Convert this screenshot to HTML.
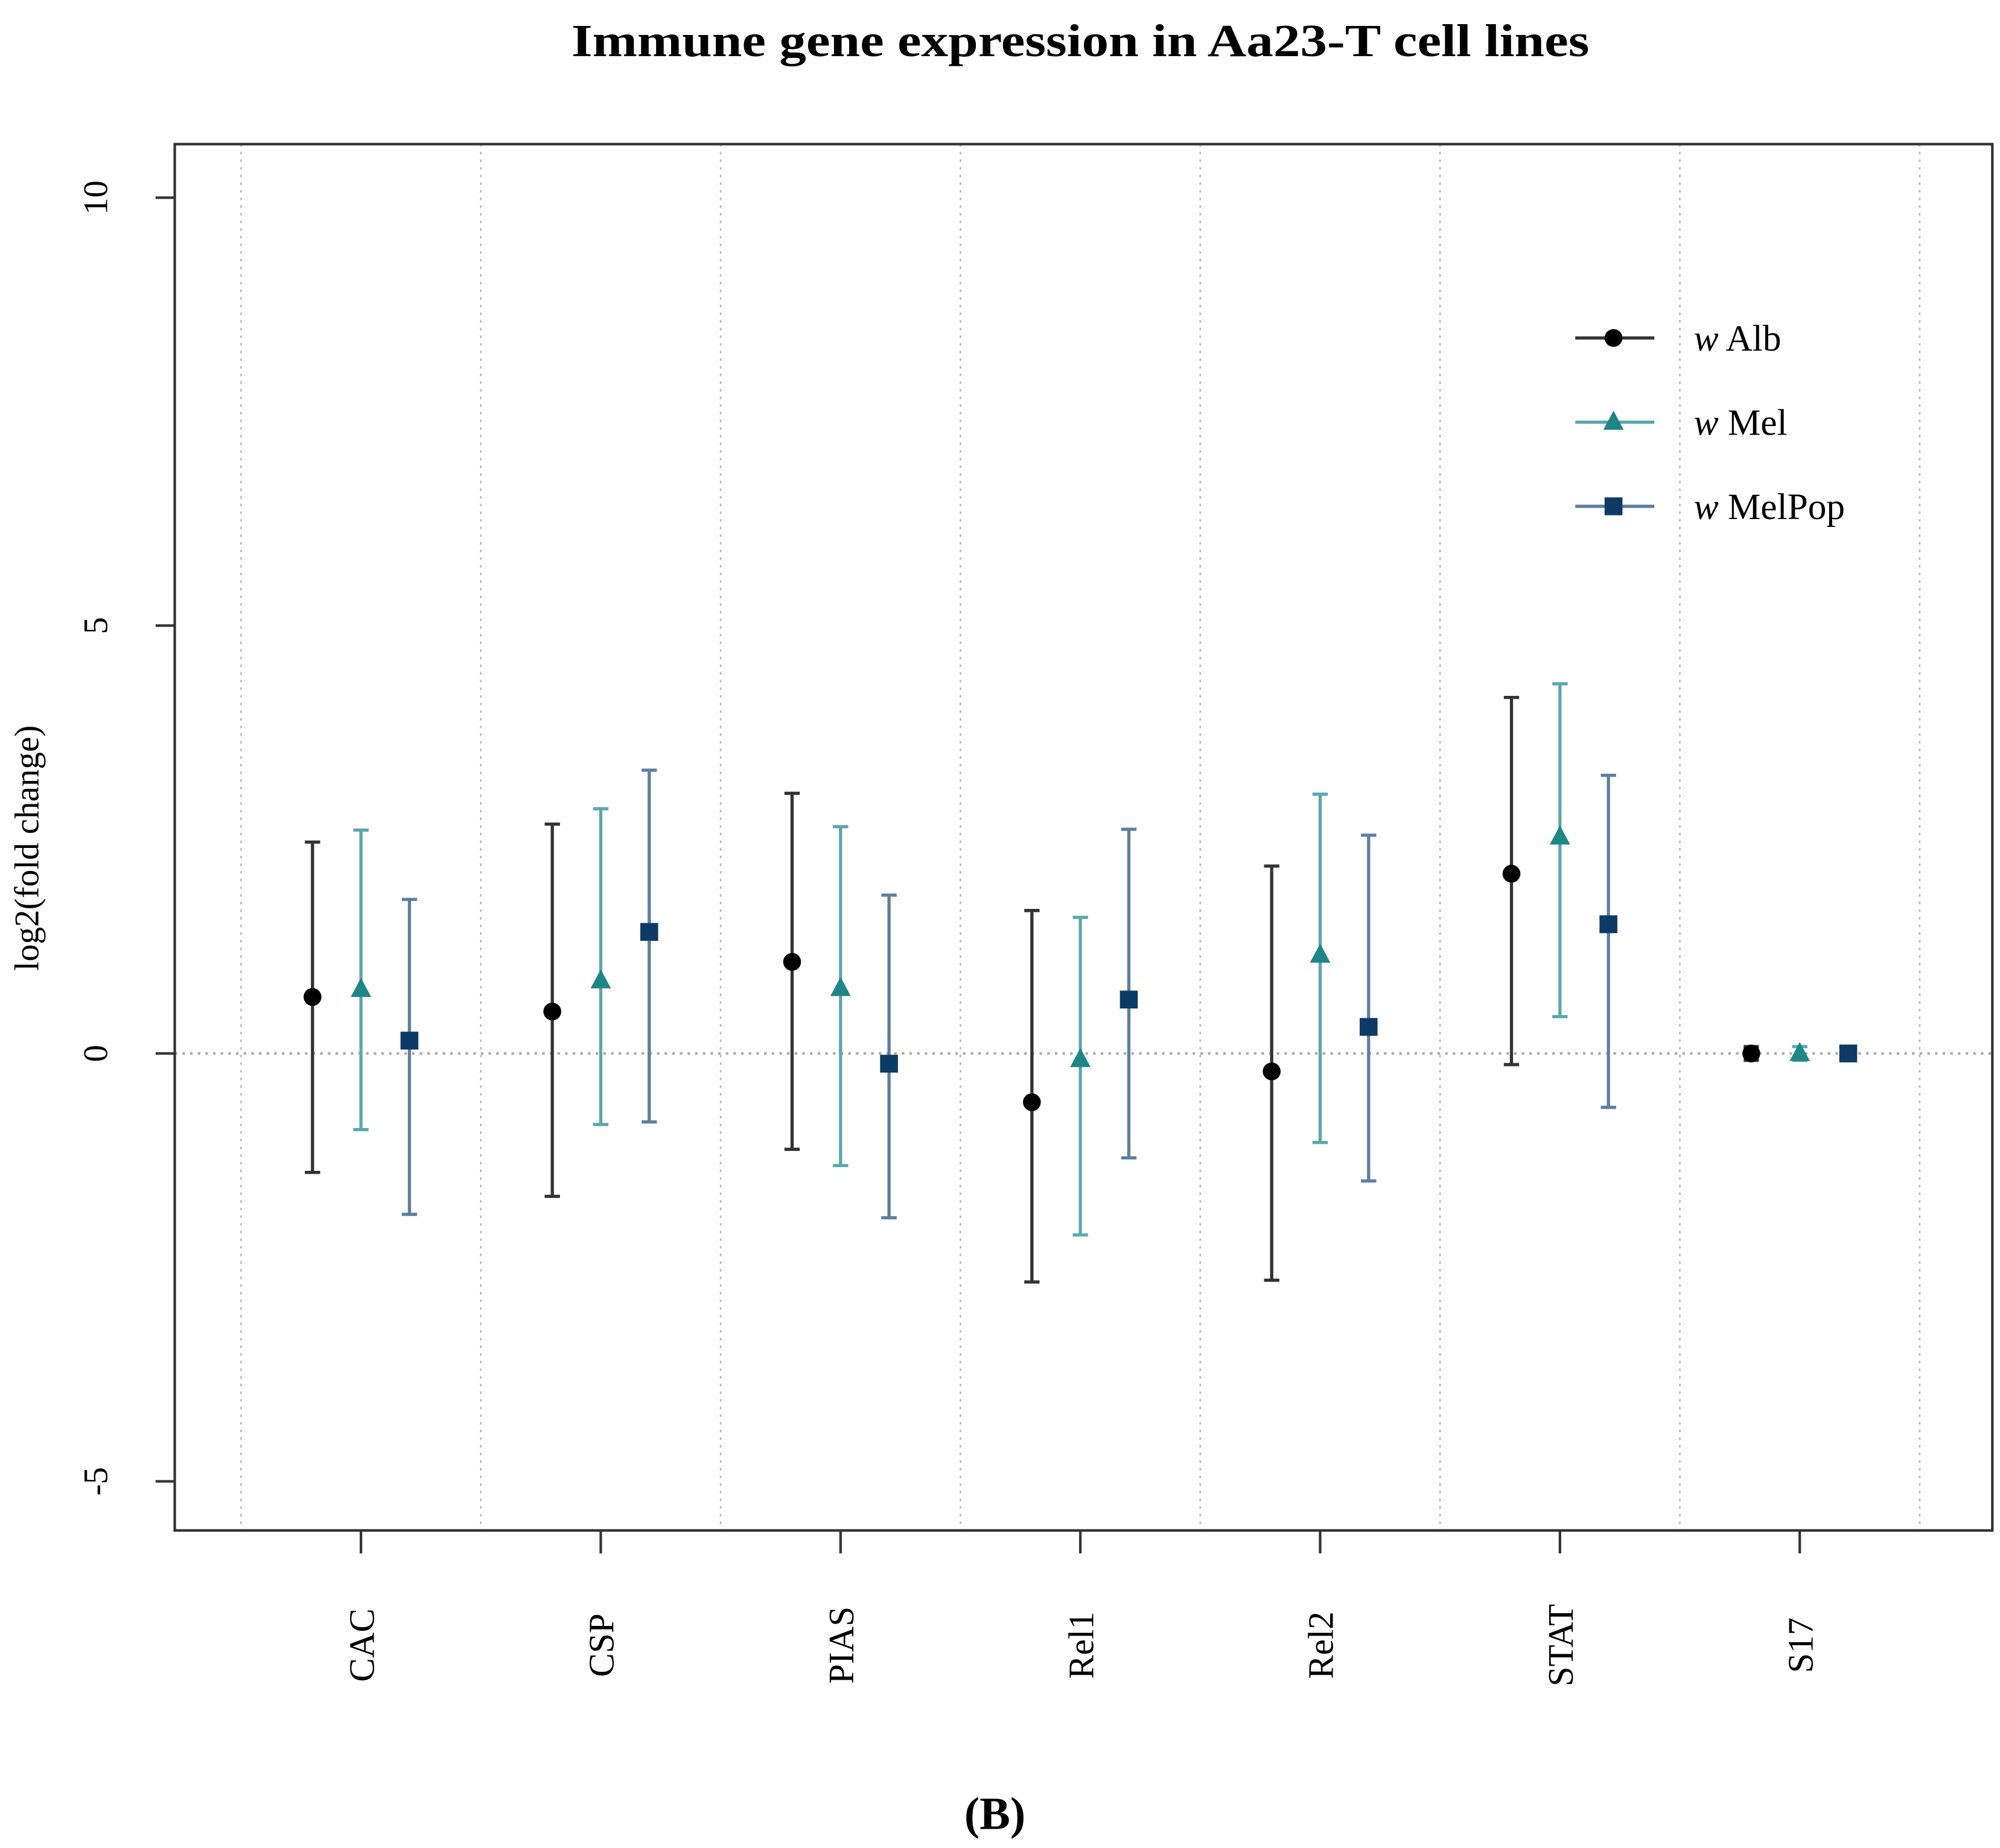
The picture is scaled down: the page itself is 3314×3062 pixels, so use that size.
<!DOCTYPE html>
<html><head><meta charset="utf-8"><style>
html,body{margin:0;padding:0;background:#fff;}
svg{display:block;}
text{font-family:"Liberation Serif",serif;}
</style></head><body>
<svg id="chart" width="3314" height="3062" viewBox="0 0 1568 1449" preserveAspectRatio="none" xmlns="http://www.w3.org/2000/svg">
<rect width="1568" height="1449" fill="#fff"/>
<text x="847" y="44" text-anchor="middle" font-size="36" font-weight="bold" textLength="798" lengthAdjust="spacingAndGlyphs">Immune gene expression in Aa23-T cell lines</text>
<g id="grid"></g>
<g id="marks"></g>
<rect x="137" y="113" width="1425" height="1087" fill="none" stroke="#333" stroke-width="2"/>
<g id="axes"></g>
<text transform="translate(30,665) rotate(-90)" text-anchor="middle" font-size="27">log2(fold change)</text>
<g id="legend"></g>
<text x="780" y="1434" text-anchor="middle" font-size="36" font-weight="bold">(B)</text>
</svg>
<script>
const categories = ["CAC","CSP","PIAS","Rel1","Rel2","STAT","S17"];
const seriesNames = ["Alb","Mel","MelPop"];
const albMean = [0.66,0.49,1.07,-0.57,-0.21,2.10,0];
const albHi   = [2.47,2.68,3.04,1.67,2.19,4.16,0.08];
const albLo   = [-1.39,-1.67,-1.12,-2.67,-2.65,-0.13,-0.08];
const melMean = [0.75,0.85,0.76,-0.07,1.15,2.53,0];
const melHi   = [2.61,2.86,2.65,1.59,3.03,4.32,0.08];
const melLo   = [-0.89,-0.83,-1.31,-2.12,-1.04,0.43,-0.08];
const popMean = [0.15,1.42,-0.12,0.63,0.31,1.51,0];
const popHi   = [1.80,3.31,1.85,2.62,2.55,3.25,0.08];
const popLo   = [-1.88,-0.80,-1.92,-1.22,-1.49,-0.63,-0.08];
const yTicks = [-5,0,5,10];

const NS="http://www.w3.org/2000/svg";
function y(v){return 826 - v*67.1;}
function x(i){return 283 + i*188;}
function mk(tag,attrs,parent){const e=document.createElementNS(NS,tag);for(const k in attrs)e.setAttribute(k,attrs[k]);parent.appendChild(e);return e;}
const grid=document.getElementById('grid'),marks=document.getElementById('marks'),axes=document.getElementById('axes'),legend=document.getElementById('legend');

for(let i=0;i<=categories.length;i++){
  const gx=x(i)-94;
  const l=mk('line',{x1:gx,x2:gx,y1:113,y2:1200,stroke:'#bbb','stroke-width':1.3,'stroke-dasharray':'2,4'},grid);
  
  
}
const zl=mk('line',{x1:137,x2:1562,y1:y(0),y2:y(0),stroke:'#aaa','stroke-width':2,'stroke-dasharray':'2,4'},grid);



yTicks.forEach(t=>{
  const l=mk('line',{x1:122,x2:137,y1:y(t),y2:y(t),stroke:'#333','stroke-width':2},axes);
  
  
  const tx=mk('text',{transform:`translate(84,${y(t)}) rotate(-90)`,'text-anchor':'middle','font-size':27},axes);
  tx.textContent=t;
  
  
});
categories.forEach((c,i)=>{
  const l=mk('line',{x1:x(i),x2:x(i),y1:1200,y2:1218,stroke:'#333','stroke-width':2},axes);
  
  
  const tx=mk('text',{transform:`translate(${x(i)+10},1290) rotate(-90)`,'text-anchor':'middle','font-size':28},axes);
  tx.textContent=c;
  
  
});

const series=[
 {name:'alb',mean:albMean,hi:albHi,lo:albLo,off:-38,col:'#000',bar:'#333',shape:'circle'},
 {name:'mel',mean:melMean,hi:melHi,lo:melLo,off:0,col:'#1f8585',bar:'#5aa8ac',shape:'tri'},
 {name:'melpop',mean:popMean,hi:popHi,lo:popLo,off:38,col:'#0d3b66',bar:'#5d7f9f',shape:'sq'}];
function marker(s,cx,cy,parent){
  let e;
  if(s.shape==='circle') e=mk('circle',{cx:cx,cy:cy,r:7,fill:s.col},parent);
  else if(s.shape==='tri') e=mk('polygon',{points:`${cx},${cy-9} ${cx-8},${cy+6} ${cx+8},${cy+6}`,fill:s.col},parent);
  else e=mk('rect',{x:cx-7,y:cy-7,width:14,height:14,fill:s.col},parent);
  return e;
}
series.forEach(s=>{
  categories.forEach((c,i)=>{
    const cx=x(i)+s.off;
    const v=mk('line',{x1:cx,x2:cx,y1:y(s.hi[i]),y2:y(s.lo[i]),stroke:s.bar,'stroke-width':2.5},marks);
    
    
    [s.hi[i],s.lo[i]].forEach(val=>{
      const cap=mk('line',{x1:cx-6,x2:cx+6,y1:y(val),y2:y(val),stroke:s.bar,'stroke-width':2.5},marks);
      
      
    });
    const m=marker(s,cx,y(s.mean[i]),marks);
    
    
  });
});
const ly=[265,331,397];
series.forEach((s,k)=>{
  const l=mk('line',{x1:1235,x2:1297,y1:ly[k],y2:ly[k],stroke:s.bar,'stroke-width':2.5},legend);
  
  
  const m=marker(s,1265,ly[k],legend);
  
  
  const t=mk('text',{x:1328,y:ly[k]+10,'font-size':29},legend);
  t.innerHTML='<tspan font-style="italic">w</tspan> '+seriesNames[k];
  
  
});
</script>
</body></html>
